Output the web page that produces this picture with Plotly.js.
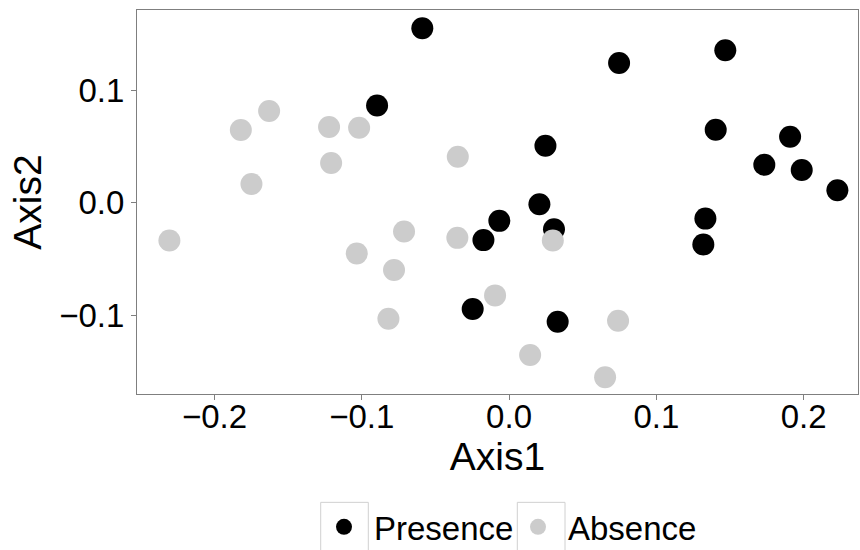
<!DOCTYPE html>
<html>
<head>
<meta charset="utf-8">
<script src="https://cdn.plot.ly/plotly-3.0.1.min.js"></script>
<style>html,body{margin:0;padding:0;background:#fff}#chart{width:860px;height:550px}</style>
</head>
<body>
<div id="chart"></div>
<script>
// Presence (black)
const presenceAxis1 = [-0.0589, -0.0896, 0.0747, 0.1468, 0.1403, 0.1908, 0.1733, 0.1987, 0.2229, 0.0247, 0.0206, -0.0066, -0.0174, 0.0305, 0.1333, 0.1319, -0.0247, 0.0330];
const presenceAxis2 = [0.1549, 0.0863, 0.1241, 0.1354, 0.0647, 0.0585, 0.0337, 0.0290, 0.0110, 0.0505, -0.0014, -0.0162, -0.0333, -0.0236, -0.0142, -0.0372, -0.0945, -0.1058];
// Absence (grey)
const absenceAxis1 = [-0.1629, -0.1821, -0.1222, -0.1018, -0.1208, -0.1749, -0.2306, -0.0713, -0.1034, -0.0781, -0.0819, -0.0348, -0.0351, 0.0297, -0.0095, 0.0740, 0.0143, 0.0652];
const absenceAxis2 = [0.0813, 0.0645, 0.0671, 0.0665, 0.0352, 0.0166, -0.0337, -0.0257, -0.0452, -0.0599, -0.1031, 0.0408, -0.0313, -0.0337, -0.0824, -0.1049, -0.1353, -0.1551];
const seriesNames = ["Presence", "Absence"];
const xTickVals = [-0.2, -0.1, 0.0, 0.1, 0.2];
const xTickText = ["\u22120.2", "\u22120.1", "0.0", "0.1", "0.2"];
const yTickVals = [-0.1, 0.0, 0.1];
const yTickText = ["\u22120.1", "0.0", "0.1"];

const FONT = "Liberation Sans, Arial, Helvetica, sans-serif";
const GREY = "#7f7f7f";
const KEYBOX = "#d0d0d0";

// plot area in px, used to place legend key boxes (decoration only)
const PL = 137, PW = 721, PT = 10, PH = 384.5;
function px2x(p) { return (p - PL) / PW; }
function py2y(p) { return (PT + PH - p) / PH; }
function keyBox(x0, x1) {
  return {type: "rect", xref: "paper", yref: "paper",
    x0: px2x(x0), x1: px2x(x1), y0: py2y(503), y1: py2y(560),
    line: {color: KEYBOX, width: 1}, fillcolor: "rgba(0,0,0,0)", layer: "below"};
}

const traces = [
  {x: presenceAxis1, y: presenceAxis2, name: seriesNames[0], type: "scatter", mode: "markers",
   marker: {color: "#000000", size: 22, line: {width: 0}}},
  {x: absenceAxis1, y: absenceAxis2, name: seriesNames[1], type: "scatter", mode: "markers",
   marker: {color: "#cccccc", size: 22, line: {width: 0}}}
];

const layout = {
  width: 860, height: 550,
  margin: {l: 137, r: 2, t: 10, b: 155.5, autoexpand: false},
  paper_bgcolor: "#ffffff", plot_bgcolor: "#ffffff",
  font: {family: FONT, size: 33, color: "#000000"},
  xaxis: {
    range: [-0.2526, 0.2369], tickvals: xTickVals, ticktext: xTickText, automargin: false,
    showgrid: false, zeroline: false, showline: true, mirror: true, linecolor: GREY, linewidth: 1,
    ticks: "outside", ticklen: 5, tickcolor: GREY, tickwidth: 1, ticklabelstandoff: -12,
    tickfont: {family: FONT, size: 33, color: "#000000"},
    title: {text: "Axis1", font: {family: FONT, size: 39, color: "#000000"}, standoff: 8}
  },
  yaxis: {
    range: [-0.170, 0.1711], tickvals: yTickVals, ticktext: yTickText, automargin: false,
    showgrid: false, zeroline: false, showline: true, mirror: true, linecolor: GREY, linewidth: 1,
    ticks: "outside", ticklen: 5, tickcolor: GREY, tickwidth: 1,
    tickfont: {family: FONT, size: 33, color: "#000000"},
    title: {text: "Axis2", font: {family: FONT, size: 39, color: "#000000"}, standoff: 5}
  },
  shapes: [keyBox(320.7, 368.3), keyBox(517.3, 565)],
  showlegend: true,
  legend: {
    orientation: "h", x: px2x(314), xanchor: "left", yref: "container", y: 0.093, yanchor: "top",
    itemwidth: 50, entrywidth: 129, entrywidthmode: "pixels",
    font: {family: FONT, size: 33, color: "#000000"},
    bgcolor: "rgba(0,0,0,0)", borderwidth: 0, itemclick: false, itemdoubleclick: false
  }
};

Plotly.newPlot("chart", traces, layout, {displayModeBar: false, staticPlot: true});
</script>
</body>
</html>
